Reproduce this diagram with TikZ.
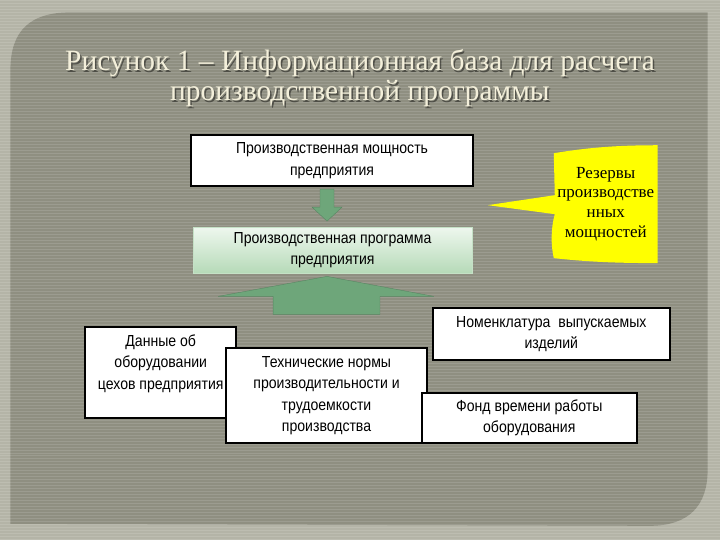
\documentclass[tikz,border=0pt]{standalone}
\usepackage{fontspec}
\setmainfont{Liberation Serif}
\newfontfamily\boxfont[FakeStretch=0.88]{Liberation Sans}
\usetikzlibrary{positioning,arrows.meta,calc}
\definecolor{outerbg}{HTML}{B4B4A7}
\definecolor{panelbg}{HTML}{8F8F81}
\definecolor{titlecol}{HTML}{F3EFDA}
\definecolor{arrowgreen}{HTML}{6EA67A}
\definecolor{progtop}{HTML}{EEF7EE}
\definecolor{progbottom}{HTML}{B6DAB8}
\definecolor{callyellow}{HTML}{FFFF00}

\begin{document}
\begin{tikzpicture}[
		x=1pt, y=-1pt,
		databox/.style={
			draw=black,
			line width=2pt,
			fill=white,
			align=center,
			inner sep=2pt,
			font=\boxfont\fontsize{16}{21.5}\selectfont
		},
		greenarrow/.style={
			fill=arrowgreen,
			draw=arrowgreen!80!black,
			line width=0.4pt
		}
		]
		
		% background and panel
		\fill[outerbg] (0,0) rectangle (720,540);
		\fill[panelbg] (10,524) -- (10,70) .. controls (10,30) and (30,12) .. (70,12)
			-- (708,12) -- (708,470) .. controls (708,505) and (690,526) .. (650,526) -- cycle;
		\foreach \y in {0,3,...,540}
			\draw[white,opacity=0.12,line width=0.8pt] (0,\y) -- (720,\y);
		
		% title
		\node[text=black,opacity=0.45,align=center,font=\fontsize{29.5}{30}\selectfont]
			at (361.5,79.5) {Рисунок 1 – Информационная база для расчета\\производственной программы};
		\node (title) [text=titlecol,align=center,font=\fontsize{29.5}{30}\selectfont]
			at (360,78) {Рисунок 1 – Информационная база для расчета\\производственной программы};
		
		% boxes
		\node (cap) [databox, minimum width=282, minimum height=51] at (332,160.5)
			{Производственная мощность\\предприятия};
		
		\node (prog) [databox, draw=progbottom!80!white, line width=0.6pt,
			top color=progtop, bottom color=progbottom,
			minimum width=279, minimum height=46] at (332.5,250)
			{Производственная программа\\предприятия};
		
		\node (equip) [databox, minimum width=151, minimum height=91] at (160.5,372.5)
			{Данные об\\оборудовании\\цехов предприятия\\\mbox{}};
		
		\node (norms) [databox, minimum width=201, minimum height=95] at (326.5,395.5)
			{Технические нормы\\производительности и\\трудоемкости\\производства};
		
		\node (range) [databox, minimum width=237, minimum height=52] at (551.5,334)
			{Номенклатура~ выпускаемых\\изделий};
		
		\node (fund) [databox, minimum width=215, minimum height=50] at (529.5,418)
			{Фонд времени работы\\оборудования};
		
		% arrow from capacity to programme
		\coordinate (c) at ($(cap.south)+(-5,0)$);
		\draw[greenarrow] ($(c)+(-7,2)$) -- ($(c)+(7,2)$) -- ($(c)+(7,20)$) -- ($(c)+(15,20)$)
			-- ($(c)+(0,34)$) -- ($(c)+(-15,20)$) -- ($(c)+(-7,20)$) -- cycle;
		
		% big arrow into programme
		\coordinate (p) at ($(prog.south)+(-5.5,3)$);
		\draw[greenarrow] (p) -- ($(p)+(107,20)$) -- ($(p)+(53,20)$) -- ($(p)+(53,38)$)
			-- ($(p)+(-54,38)$) -- ($(p)+(-54,20)$) -- ($(p)+(-109,20)$) -- cycle;
		
		% callout
		\coordinate (calltip) at (488,205);
		\fill[callyellow] (calltip) -- (555,195) -- (554,153) .. controls (590,147) and (620,145) .. (658,145)
			-- (658,263) .. controls (620,263) and (590,262) .. (554,258)
			.. controls (551,245) and (551,228) .. (555,214) -- cycle;
		\node (reserve) [align=center, font=\fontsize{17}{20}\selectfont] at (606,204)
			{Резервы\\производстве\\нных\\мощностей};
		
	\end{tikzpicture}
\end{document}
